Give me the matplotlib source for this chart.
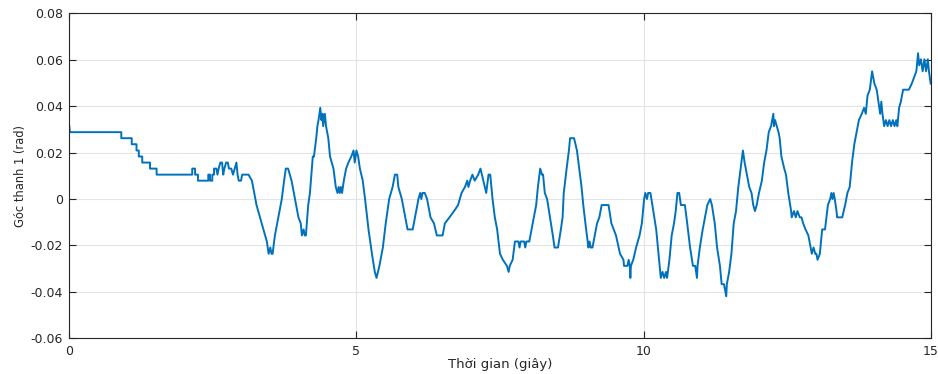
import matplotlib
matplotlib.use("Agg")
import matplotlib.pyplot as plt

plt.rcParams['font.family'] = ['DejaVu Sans']
plt.rcParams['axes.unicode_minus'] = False

# thoi gian (s) va goc thanh 1 (rad), doc tu do thi
thoi_gian = [
    0.00, 0.01, 0.905, 0.905, 1.087, 1.087, 1.17, 1.17, 1.21, 1.21, 1.27, 1.27,
    1.405, 1.405, 1.52, 1.52, 2.14, 2.14, 2.19, 2.19, 2.24, 2.24, 2.42, 2.42,
    2.45, 2.45, 2.49, 2.49, 2.52, 2.52, 2.56, 2.58, 2.60, 2.63, 2.66, 2.68,
    2.70, 2.73, 2.76, 2.78, 2.82, 2.85, 2.88, 2.91, 2.93, 2.95, 2.99, 3.01,
    3.12, 3.18, 3.26, 3.32, 3.38, 3.44, 3.47, 3.50, 3.52, 3.54, 3.58, 3.64,
    3.70, 3.74, 3.77, 3.81, 3.87, 3.93, 3.99, 4.03, 4.05, 4.08, 4.10, 4.12,
    4.16, 4.19, 4.24, 4.26, 4.30, 4.32, 4.34, 4.37, 4.39, 4.41, 4.42, 4.45,
    4.47, 4.51, 4.54, 4.60, 4.64, 4.67, 4.69, 4.71, 4.73, 4.75, 4.78, 4.82,
    4.86, 4.91, 4.95, 4.97, 5.00, 5.03, 5.06, 5.11, 5.15, 5.21, 5.27, 5.32,
    5.35, 5.40, 5.46, 5.51, 5.57, 5.63, 5.67, 5.71, 5.73, 5.79, 5.85, 5.89,
    5.98, 6.00, 6.04, 6.08, 6.11, 6.13, 6.15, 6.19, 6.23, 6.29, 6.35, 6.40,
    6.50, 6.54, 6.62, 6.70, 6.77, 6.83, 6.89, 6.93, 6.95, 6.98, 7.02, 7.06,
    7.12, 7.16, 7.21, 7.26, 7.30, 7.33, 7.37, 7.41, 7.45, 7.50, 7.55, 7.62,
    7.65, 7.67, 7.72, 7.76, 7.82, 7.84, 7.86, 7.92, 7.94, 7.96, 8.01, 8.05,
    8.09, 8.13, 8.16, 8.20, 8.23, 8.25, 8.28, 8.32, 8.37, 8.42, 8.45, 8.51,
    8.56, 8.59, 8.61, 8.66, 8.70, 8.72, 8.79, 8.84, 8.88, 8.92, 8.95, 9.00,
    9.04, 9.06, 9.08, 9.11, 9.15, 9.19, 9.23, 9.27, 9.39, 9.44, 9.52, 9.59,
    9.65, 9.66, 9.72, 9.74, 9.76, 9.77, 9.78, 9.82, 9.87, 9.93, 9.97, 10.01,
    10.03, 10.06, 10.08, 10.12, 10.17, 10.22, 10.26, 10.30, 10.33, 10.36, 10.39, 10.41,
    10.45, 10.49, 10.53, 10.56, 10.59, 10.62, 10.65, 10.72, 10.76, 10.81, 10.86, 10.90,
    10.93, 10.94, 10.98, 11.03, 11.07, 11.11, 11.16, 11.19, 11.24, 11.28, 11.33, 11.36,
    11.40, 11.42, 11.44, 11.45, 11.49, 11.53, 11.57, 11.61, 11.65, 11.69, 11.73, 11.76,
    11.80, 11.84, 11.88, 11.91, 11.94, 11.97, 12.01, 12.06, 12.10, 12.14, 12.18, 12.22,
    12.24, 12.26, 12.27, 12.29, 12.32, 12.35, 12.37, 12.40, 12.45, 12.48, 12.52, 12.57,
    12.58, 12.62, 12.65, 12.68, 12.72, 12.75, 12.78, 12.82, 12.87, 12.91, 12.93, 12.96,
    12.99, 13.01, 13.03, 13.07, 13.11, 13.16, 13.21, 13.25, 13.27, 13.29, 13.31, 13.33,
    13.36, 13.37, 13.46, 13.51, 13.55, 13.59, 13.63, 13.67, 13.71, 13.75, 13.80, 13.84,
    13.87, 13.90, 13.94, 13.98, 14.02, 14.06, 14.09, 14.12, 14.14, 14.16, 14.19, 14.22,
    14.25, 14.28, 14.31, 14.34, 14.37, 14.40, 14.42, 14.45, 14.48, 14.52, 14.60, 14.62,
    14.67, 14.71, 14.75, 14.78, 14.80, 14.83, 14.86, 14.89, 14.92, 14.95, 14.97, 15.00,
]

goc_thanh1 = [
    0.0314, 0.0288, 0.0288, 0.0262, 0.0262, 0.0236, 0.0236, 0.0209, 0.0209, 0.0183, 0.0183, 0.0157,
    0.0157, 0.0131, 0.0131, 0.0105, 0.0105, 0.0131, 0.0131, 0.0105, 0.0105, 0.0079, 0.0079, 0.0105,
    0.0105, 0.0079, 0.0079, 0.0105, 0.0105, 0.0131, 0.0131, 0.0105, 0.0131, 0.0157, 0.0157, 0.0105,
    0.0131, 0.0157, 0.0157, 0.0131, 0.0131, 0.0105, 0.0131, 0.0157, 0.0105, 0.0079, 0.0079, 0.0105,
    0.0105, 0.0079, -0.0026, -0.0079, -0.0131, -0.0183, -0.0236, -0.0209, -0.0236, -0.0236, -0.0157, -0.0079,
    0.0, 0.0079, 0.0131, 0.0131, 0.0079, 0.0, -0.0079, -0.0105, -0.0157, -0.0131, -0.0157, -0.0157,
    -0.0026, 0.0026, 0.0183, 0.0183, 0.0262, 0.0314, 0.0340, 0.0393, 0.0340, 0.0367, 0.0314, 0.0367,
    0.0314, 0.0262, 0.0183, 0.0131, 0.0052, 0.0026, 0.0052, 0.0026, 0.0052, 0.0026, 0.0079, 0.0131,
    0.0157, 0.0183, 0.0209, 0.0157, 0.0209, 0.0183, 0.0131, 0.0079, 0.0, -0.0131, -0.0236, -0.0314,
    -0.0340, -0.0288, -0.0209, -0.0105, 0.0, 0.0052, 0.0105, 0.0105, 0.0052, 0.0, -0.0079, -0.0131,
    -0.0131, -0.0105, -0.0052, 0.0, 0.0026, 0.0, 0.0026, 0.0026, 0.0, -0.0079, -0.0105, -0.0157,
    -0.0157, -0.0105, -0.0079, -0.0052, -0.0026, 0.0026, 0.0052, 0.0079, 0.0052, 0.0079, 0.0105, 0.0079,
    0.0105, 0.0131, 0.0079, 0.0026, 0.0105, 0.0105, 0.0, -0.0079, -0.0131, -0.0236, -0.0262, -0.0288,
    -0.0314, -0.0288, -0.0262, -0.0183, -0.0183, -0.0209, -0.0183, -0.0183, -0.0209, -0.0183, -0.0183, -0.0131,
    -0.0079, -0.0026, 0.0052, 0.0131, 0.0105, 0.0105, 0.0026, 0.0, -0.0079, -0.0157, -0.0209, -0.0209,
    -0.0131, -0.0079, 0.0026, 0.0131, 0.0209, 0.0262, 0.0262, 0.0209, 0.0131, 0.0052, -0.0026, -0.0131,
    -0.0209, -0.0183, -0.0209, -0.0209, -0.0157, -0.0105, -0.0079, -0.0026, -0.0026, -0.0105, -0.0157, -0.0236,
    -0.0262, -0.0288, -0.0288, -0.0262, -0.0288, -0.0340, -0.0288, -0.0262, -0.0209, -0.0157, -0.0105, 0.0,
    0.0026, 0.0, 0.0026, 0.0026, -0.0052, -0.0131, -0.0236, -0.0340, -0.0314, -0.0340, -0.0314, -0.0340,
    -0.0262, -0.0157, -0.0105, -0.0052, 0.0026, 0.0026, -0.0026, -0.0026, -0.0105, -0.0209, -0.0288, -0.0288,
    -0.0340, -0.0288, -0.0209, -0.0131, -0.0079, -0.0026, 0.0, -0.0026, -0.0105, -0.0209, -0.0288, -0.0367,
    -0.0367, -0.0393, -0.0419, -0.0367, -0.0314, -0.0236, -0.0105, -0.0052, 0.0052, 0.0131, 0.0209, 0.0157,
    0.0105, 0.0052, 0.0026, -0.0026, -0.0052, -0.0026, 0.0026, 0.0079, 0.0157, 0.0209, 0.0288, 0.0314,
    0.0340, 0.0367, 0.0314, 0.0340, 0.0314, 0.0288, 0.0262, 0.0183, 0.0131, 0.0105, 0.0026, -0.0052,
    -0.0079, -0.0052, -0.0079, -0.0052, -0.0079, -0.0079, -0.0105, -0.0131, -0.0157, -0.0209, -0.0236, -0.0209,
    -0.0236, -0.0236, -0.0262, -0.0236, -0.0131, -0.0131, -0.0026, 0.0, 0.0026, 0.0, 0.0026, 0.0,
    -0.0052, -0.0079, -0.0079, -0.0026, 0.0026, 0.0052, 0.0157, 0.0236, 0.0288, 0.0340, 0.0367, 0.0393,
    0.0367, 0.0445, 0.0471, 0.0550, 0.0497, 0.0471, 0.0419, 0.0367, 0.0419, 0.0367, 0.0314, 0.0340,
    0.0314, 0.0340, 0.0314, 0.0340, 0.0314, 0.0340, 0.0314, 0.0393, 0.0419, 0.0471, 0.0471, 0.0471,
    0.0497, 0.0524, 0.0550, 0.0628, 0.0576, 0.0602, 0.0550, 0.0602, 0.0550, 0.0602, 0.0550, 0.0497,
]

x_ticks = [0, 5, 10, 15]
y_ticks = [-0.06, -0.04, -0.02, 0, 0.02, 0.04, 0.06, 0.08]
y_tick_labels = ['-0.06', '-0.04', '-0.02', '0', '0.02', '0.04', '0.06', '0.08']

fig = plt.figure(figsize=(9.38, 3.74), dpi=100)
ax = fig.add_axes([0.0739, 0.0955, 0.9183, 0.8689])

ax.plot(thoi_gian, goc_thanh1, color='#0072BD', lw=1.4)

ax.set_xlim(0, 15)
ax.set_ylim(-0.06, 0.08)
ax.set_xticks(x_ticks)
ax.set_xticklabels([str(v) for v in x_ticks])
ax.set_yticks(y_ticks)
ax.set_yticklabels(y_tick_labels)

ax.grid(True, color='#e3e3e3', lw=0.8)
ax.set_axisbelow(True)
ax.tick_params(direction='in', top=True, right=True, length=5, width=0.8,
               colors='#262626', labelsize=9)
ax.tick_params(axis='x', pad=5)
ax.tick_params(axis='y', pad=4.5)
for sp in ax.spines.values():
    sp.set_color('#262626')
    sp.set_linewidth(0.8)

ax.set_xlabel('Thời gian (giây)', fontsize=9.5, color='#262626')
ax.xaxis.set_label_coords(0.5, -0.06)
ax.set_ylabel('Góc thanh 1 (rad)', fontsize=8.3, color='#262626', labelpad=3)

fig.savefig('out.png', dpi=100)
